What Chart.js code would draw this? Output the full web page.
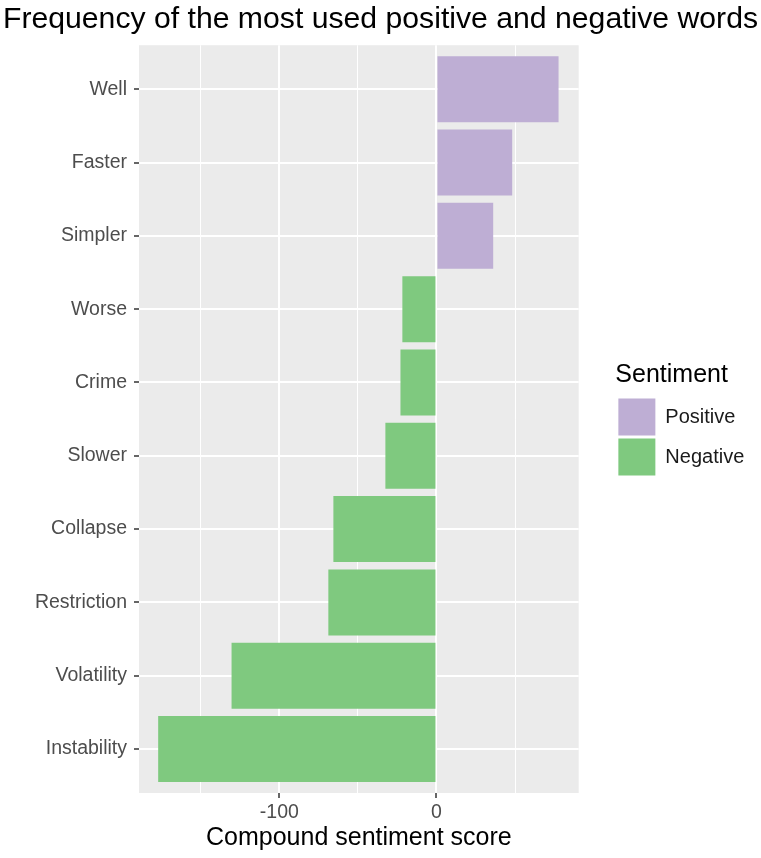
<!DOCTYPE html>
<html>
<head>
<meta charset="utf-8">
<script src="https://cdn.jsdelivr.net/npm/chart.js@4"></script>
<style>
  html, body { margin: 0; padding: 0; background: #fff; }
  #wrap { width: 761px; height: 858px; }
</style>
</head>
<body>
<div id="wrap"><canvas id="chart"></canvas></div>
<script>
// Words, top to bottom
const words = ["Well", "Faster", "Simpler", "Worse", "Crime", "Slower", "Collapse", "Restriction", "Volatility", "Instability"];
const scores = [77.7, 48.2, 36.1, -21.7, -22.9, -32.5, -65.6, -68.8, -130.4, -177.1];
const sentiment = ["Positive", "Positive", "Positive", "Negative", "Negative", "Negative", "Negative", "Negative", "Negative", "Negative"];
const groups = ["Positive", "Negative"];
const groupColors = ["#BEAED4", "#7FC97F"];
const xTicks = [-150, -100, -50, 0, 50];
const xLabeled = [-100, 0];

Chart.defaults.font.family = "'Liberation Sans', Arial, sans-serif";

// grey panel behind the grid, like ggplot
const panelBg = {
    id: "panelBg",
    beforeDraw(chart) {
        const a = chart.chartArea;
        const ctx = chart.ctx;
        ctx.save();
        ctx.fillStyle = "#EBEBEB";
        ctx.fillRect(a.left, a.top, a.right - a.left, a.bottom - a.top);
        ctx.restore();
    }
};

// give the legend some room on its right so the labels are not clipped
const legendRoom = {
    id: "legendRoom",
    beforeLayout(chart) {
        const lg = chart.legend;
        if (lg && !lg._roomy) {
            const fit = lg.fit;
            lg.fit = function () { fit.call(this); this.width += 18.8; };
            lg._roomy = true;
        }
    }
};

const datasets = groups.map(function (g, k) {
    const pts = [];
    words.forEach(function (w, i) {
        if (sentiment[i] === g) pts.push({ x: scores[i], y: i });
    });
    return {
        label: g,
        data: pts,
        backgroundColor: groupColors[k],
        borderColor: groupColors[k],
        borderWidth: 0,
        grouped: false,
        categoryPercentage: 1,
        barPercentage: 0.9
    };
});

const ctx = document.getElementById("chart").getContext("2d");
new Chart(ctx, {
    type: "bar",
    data: { datasets: datasets },
    plugins: [panelBg, legendRoom],
    options: {
        indexAxis: "y",
        responsive: true,
        maintainAspectRatio: false,
        animation: false,
        layout: { padding: 0 },
        scales: {
            x: {
                type: "linear",
                min: -189.3,
                max: 90.5,
                afterBuildTicks: function (s) { s.ticks = xTicks.map(v => ({ value: v })); },
                afterFit: function (s) { s.height = 65; },
                border: { display: false },
                grid: {
                    color: "#FFFFFF",
                    lineWidth: c => (xLabeled.includes(c.tick && c.tick.value) ? 2 : 1),
                    tickLength: 5,
                    tickWidth: 1.5,
                    tickColor: c => (xLabeled.includes(c.tick && c.tick.value) ? "#333333" : "rgba(0,0,0,0)")
                },
                ticks: {
                    autoSkip: false,
                    maxRotation: 0,
                    padding: 3,
                    color: "#4D4D4D",
                    font: { size: 19.5 },
                    callback: v => (xLabeled.includes(v) ? String(v) : "")
                },
                title: {
                    display: true,
                    text: "Compound sentiment score",
                    color: "#000000",
                    font: { size: 25 },
                    padding: { top: 0, bottom: 5 }
                }
            },
            y: {
                type: "linear",
                reverse: true,
                offset: false,
                min: -0.6,
                max: 9.6,
                afterBuildTicks: function (s) { s.ticks = words.map((w, i) => ({ value: i })); },
                afterFit: function (s) { s.width = 139; },
                border: { display: false },
                grid: {
                    offset: false,
                    color: "#FFFFFF",
                    lineWidth: 2,
                    tickLength: 5,
                    tickWidth: 1.5,
                    tickColor: "#333333"
                },
                ticks: {
                    autoSkip: false,
                    padding: 7,
                    color: "#4D4D4D",
                    font: { size: 19.5 },
                    callback: v => words[v]
                }
            },
            // empty spacer between the panel and the legend
            gap: {
                type: "linear",
                position: "right",
                display: true,
                grid: { display: false },
                ticks: { display: false },
                border: { display: false },
                afterFit: function (s) { s.width = 36.7; }
            }
        },
        plugins: {
            title: {
                display: true,
                text: "Frequency of the most used positive and negative words",
                color: "#000000",
                font: { size: 30.2, weight: "normal" },
                padding: { top: 2, bottom: 7 }
            },
            legend: {
                position: "right",
                fullSize: false,
                title: {
                    display: true,
                    text: "Sentiment",
                    position: "start",
                    color: "#000000",
                    font: { size: 25 },
                    padding: { top: 3, bottom: 3 }
                },
                labels: {
                    boxWidth: 37,
                    boxHeight: 37,
                    padding: 3,
                    color: "#1A1A1A",
                    font: { size: 20 }
                }
            },
            tooltip: { enabled: false }
        }
    }
});
</script>
</body>
</html>
